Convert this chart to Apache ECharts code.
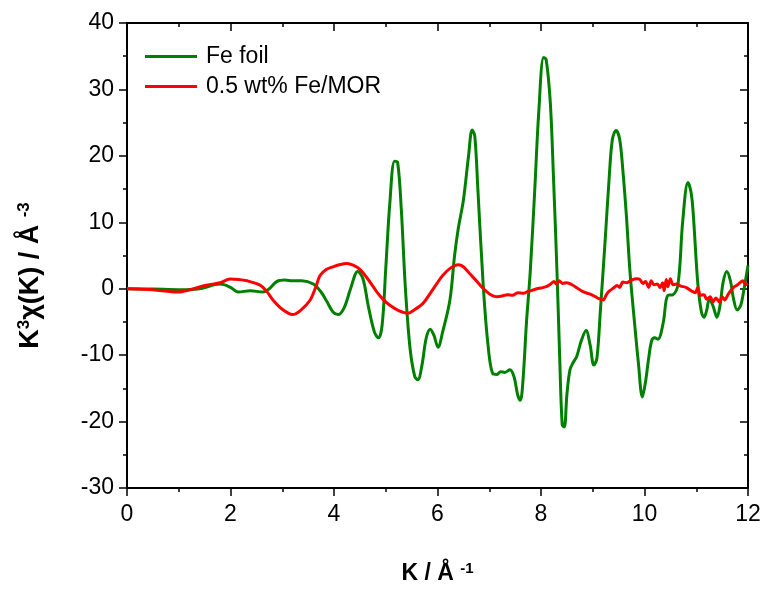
<!DOCTYPE html>
<html>
<head>
<meta charset="utf-8">
<script src="https://cdn.jsdelivr.net/npm/echarts@6/dist/echarts.min.js"></script>
<style>
  html, body { margin: 0; padding: 0; background: #fff; }
  #chart { width: 767px; height: 590px; }
</style>
</head>
<body>
<div id="chart"></div>
<script>
// k-space EXAFS oscillations, k^3-weighted
const feFoilK = [0,0.5,1.0,1.4,1.8,2.0,2.15,2.38,2.63,2.75,2.9,3.05,3.2,3.38,3.6,3.75,3.86,3.98,4.08,4.2,4.32,4.46,4.56,4.66,4.78,4.86,4.93,5.0,5.08,5.17,5.23,5.3,5.38,5.47,5.56,5.62,5.7,5.78,5.86,5.93,6.01,6.1,6.24,6.33,6.40,6.50,6.60,6.67,6.72,6.78,6.88,6.97,7.07,7.15,7.22,7.30,7.40,7.48,7.55,7.6,7.65,7.72,7.79,7.88,7.96,8.05,8.1,8.18,8.24,8.31,8.36,8.41,8.45,8.5,8.56,8.63,8.69,8.78,8.87,8.95,9.02,9.08,9.15,9.24,9.32,9.38,9.45,9.52,9.58,9.65,9.72,9.8,9.88,9.96,10.02,10.08,10.14,10.2,10.26,10.36,10.45,10.55,10.65,10.74,10.84,10.9,10.94,11.03,11.1,11.15,11.2,11.25,11.32,11.4,11.46,11.52,11.59,11.66,11.72,11.79,11.86,11.92,12.0];
const feFoilChi = [0,-0.05,-0.15,0.0,0.7,0.2,-0.5,-0.3,-0.5,0,1.1,1.3,1.2,1.2,0.7,-0.5,-1.9,-3.5,-3.9,-2.8,0,2.6,1.5,-2.5,-6.5,-7.4,-5.5,3,13,19.2,19.0,12,0,-9,-13.2,-13.7,-11.5,-7.5,-6.1,-7.0,-8.8,-6.5,-1.7,5,9,13.3,20,23.9,23,15,1,-8,-12.8,-12.9,-12.5,-12.6,-12.2,-13.3,-16,-16.8,-14,-5,2.3,15,27,34.8,34.5,28,17,2.3,-10,-20.5,-20.8,-16,-12.2,-11,-10.2,-7.8,-6.3,-8.5,-11.5,-10.5,-3,7.3,17,22.5,23.8,22.5,18,11,2.5,-4.5,-11,-16.3,-14,-10.5,-7.8,-7.4,-7.6,-5.2,-1.0,-0.9,0.8,10.3,16.0,14.5,11.5,0.8,-3.5,-4.3,-3.3,-1.7,-2.5,-4.3,-2.5,1,2.6,1.2,-1.5,-3.2,-2.5,-0.2,3.5];

const feMorK = [0,0.5,0.97,1.2,1.47,1.8,1.99,2.15,2.32,2.57,2.7,2.82,3.0,3.2,3.35,3.54,3.65,3.73,3.85,3.98,4.1,4.25,4.38,4.5,4.65,4.83,4.95,5.08,5.25,5.43,5.55,5.72,5.85,5.99,6.1,6.25,6.4,6.5,6.63,6.75,6.85,6.96,7.05,7.15,7.25,7.35,7.45,7.55,7.66,7.75,7.85,7.92,8.0,8.1,8.2,8.25,8.3,8.35,8.42,8.5,8.6,8.7,8.8,8.9,8.95,9.05,9.12,9.2,9.27,9.33,9.4,9.47,9.52,9.58,9.66,9.75,9.85,9.91,9.97,10.02,10.08,10.13,10.18,10.25,10.3,10.35,10.38,10.42,10.45,10.5,10.55,10.62,10.7,10.8,10.9,10.98,11.03,11.08,11.15,11.2,11.27,11.32,11.38,11.45,11.5,11.55,11.62,11.72,11.8,11.9,11.95,12.0];
const feMorChi = [0,-0.15,-0.5,-0.2,0.4,0.9,1.45,1.4,1.2,0.55,-0.4,-1.7,-3.1,-3.9,-3.3,-1.7,0.3,2.0,2.9,3.3,3.6,3.8,3.5,2.9,1.5,-0.5,-1.6,-2.5,-3.3,-3.7,-3.2,-2.2,-0.8,0.8,2.0,3.1,3.6,3.3,2.2,1.2,0.3,-0.5,-1.0,-1.2,-1.1,-0.9,-1.0,-0.6,-0.7,-0.4,-0.2,0.0,0.1,0.3,0.8,1.1,0.7,1.2,0.8,0.9,0.6,0.1,-0.4,-0.7,-0.8,-1.2,-1.5,-1.7,-0.8,-0.3,0.1,0.5,0.2,1.0,0.9,1.3,1.5,1.4,0.8,1.1,0.2,1.2,0.6,0.7,0.2,0.9,-0.3,1.4,0.3,1.5,0.6,0.7,0.4,0.2,-0.3,-0.6,0.2,-1.0,-0.9,-1.6,-1.2,-2.0,-1.4,-2.0,-1.2,-1.7,-0.8,0.2,0.6,1.2,0.6,0.8];

const seriesNames = ['Fe foil', '0.5 wt% Fe/MOR'];
const xRange = [0, 12];
const yRange = [-30, 40];

const pairs = (xs, ys) => xs.map((x, i) => [x, ys[i]]);

const font = 'Liberation Sans, Arial, sans-serif';
const frame = { show: true, onZero: false, lineStyle: { color: '#000', width: 2 } };
const tickStyle = { color: '#000', width: 1.5 };

const chart = echarts.init(document.getElementById('chart'), null, { renderer: 'canvas' });
chart.setOption({
  animation: false,
  backgroundColor: '#fff',
  grid: { left: 127, right: 19, top: 23, bottom: 102 },
  legend: {
    left: 140, top: 40, orient: 'vertical', itemGap: 7,
    itemWidth: 52, itemHeight: 3, icon: 'rect',
    textStyle: { fontFamily: font, fontSize: 23, color: '#000', padding: [0, 0, 0, 4] },
    data: seriesNames
  },
  xAxis: [{
    type: 'value', min: xRange[0], max: xRange[1], interval: 2,
    name: '{m|K / Å }{s|-1}', nameLocation: 'middle', nameGap: 73,
    nameTextStyle: {
      rich: {
        m: { fontFamily: font, fontSize: 23, fontWeight: 'bold', color: '#000' },
        s: { fontFamily: font, fontSize: 15, fontWeight: 'bold', color: '#000', verticalAlign: 'top', padding: [0, 0, 10, 0] }
      }
    },
    axisLine: frame, splitLine: { show: false },
    axisTick: { show: true, inside: false, length: 8, lineStyle: tickStyle },
    minorTick: { show: true, splitNumber: 2, length: 4, lineStyle: tickStyle },
    axisLabel: { fontFamily: font, fontSize: 23, color: '#000', margin: 15 }
  }, {
    type: 'value', position: 'top', min: xRange[0], max: xRange[1], interval: 2,
    axisLine: frame, splitLine: { show: false },
    axisTick: { show: true, inside: true, length: 8, lineStyle: tickStyle },
    minorTick: { show: true, splitNumber: 2, length: 4, lineStyle: tickStyle },
    axisLabel: { show: false }
  }],
  yAxis: [{
    type: 'value', min: yRange[0], max: yRange[1], interval: 10,
    name: '{m|K}{s|3}{m|χ(K) / Å }{s|-3}', nameLocation: 'middle', nameGap: 82,
    nameRotate: 90,
    nameTextStyle: {
      padding: [0, 40, 0, 0],
      rich: {
        m: { fontFamily: font, fontSize: 27, fontWeight: 'bold', color: '#000' },
        s: { fontFamily: font, fontSize: 17, fontWeight: 'bold', color: '#000', verticalAlign: 'top', padding: [0, 0, 12, 0] }
      }
    },
    axisLine: frame, splitLine: { show: false },
    axisTick: { show: true, inside: false, length: 8, lineStyle: tickStyle },
    minorTick: { show: true, splitNumber: 2, length: 4, lineStyle: tickStyle },
    axisLabel: { fontFamily: font, fontSize: 23, color: '#000', margin: 13 }
  }, {
    type: 'value', position: 'right', min: yRange[0], max: yRange[1], interval: 10,
    axisLine: frame, splitLine: { show: false },
    axisTick: { show: true, inside: true, length: 8, lineStyle: tickStyle },
    minorTick: { show: true, splitNumber: 2, length: 4, lineStyle: tickStyle },
    axisLabel: { show: false }
  }],
  series: [{
    name: seriesNames[0], type: 'line', xAxisIndex: 0, yAxisIndex: 0,
    data: pairs(feFoilK, feFoilChi), showSymbol: false, smooth: 0.35,
    itemStyle: { color: '#008000' },
    lineStyle: { color: '#008000', width: 3 }, z: 2
  }, {
    name: seriesNames[1], type: 'line', xAxisIndex: 0, yAxisIndex: 0,
    data: pairs(feMorK, feMorChi), showSymbol: false, smooth: 0.3,
    itemStyle: { color: '#ff0000' },
    lineStyle: { color: '#ff0000', width: 3 }, z: 3
  }]
});
</script>
</body>
</html>
